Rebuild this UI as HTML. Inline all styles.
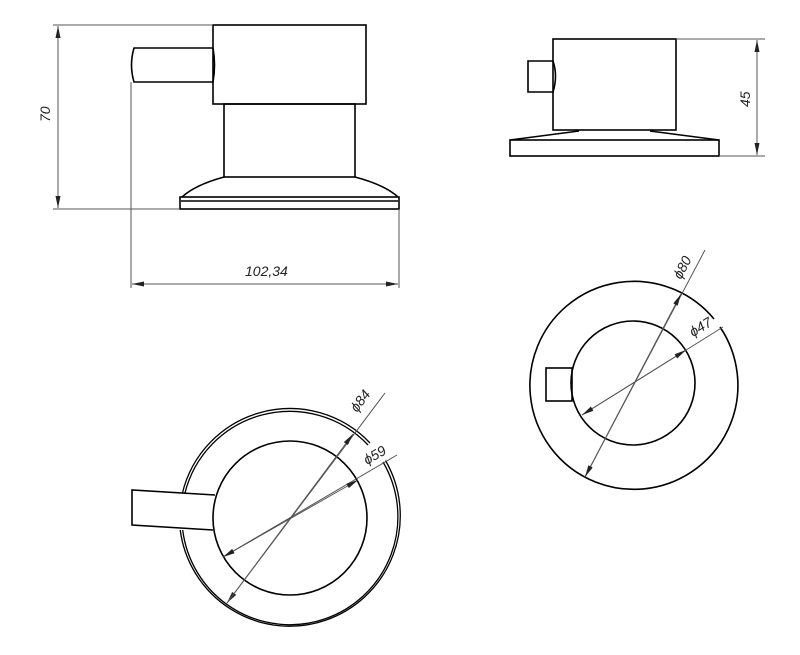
<!DOCTYPE html>
<html><head><meta charset="utf-8"><style>html,body{margin:0;padding:0;background:#fff}svg{display:block}</style></head><body>
<svg width="800" height="655" viewBox="0 0 800 655" xmlns="http://www.w3.org/2000/svg">
<defs>
<marker id="a" viewBox="0 0 12 6" refX="12" refY="3" markerWidth="12" markerHeight="6" markerUnits="userSpaceOnUse" orient="auto-start-reverse"><path d="M0,0.5 L12,3 L0,5.5 Z" fill="#222"/></marker>
</defs>
<g fill="none" stroke="#000" stroke-width="1.6">
<!-- top-left side view -->
<rect x="213" y="25" width="153" height="79"/>
<path d="M213,48 H134 Q129,65 134,82 H213"/>
<path d="M213,48 Q216,65 213,82"/>
<rect x="224" y="104" width="131" height="73"/>
<path d="M224,177 Q195,185 182,197 M355,177 Q385,185 398,197"/>
<rect x="180" y="197" width="219" height="12"/>
<line x1="181" y1="201" x2="398" y2="201"/>
<!-- top-right view -->
<rect x="553" y="39" width="123" height="91"/>
<path d="M553,61 H528 V92 H553 Q558,76 553,61"/>
<path d="M579,131 L510,140 M650,131 L719,140"/>
<rect x="510" y="140" width="209" height="16"/>
<!-- bottom-left -->
<g stroke-width="1.3">
<path d="M383,462 A108,108 0 1 1 182.7,530"/>
<path d="M184.7,494 A108,108 0 0 1 368,445"/>
<path d="M385.5,460.5 A110.5,110.5 0 1 1 180.2,530"/>
<path d="M182.3,493.5 A110.5,110.5 0 0 1 370,443"/>
</g>
<circle cx="290" cy="518" r="77"/>
<path d="M215,495 L132,490 V525 L213,530"/>
<!-- bottom-right -->
<path d="M714,319 A104,104 0 1 0 720,327"/>
<circle cx="633" cy="383" r="62"/>
<rect x="546" y="368" width="26" height="33"/>
</g>
<g fill="none" stroke="#555" stroke-width="1">
<line x1="53" y1="25" x2="213" y2="25"/>
<line x1="53" y1="209" x2="180" y2="209"/>
<line x1="58" y1="26" x2="58" y2="208" marker-start="url(#a)" marker-end="url(#a)"/>
<line x1="131" y1="82" x2="131" y2="288"/>
<line x1="399" y1="209" x2="399" y2="288"/>
<line x1="132" y1="284" x2="398" y2="284" marker-start="url(#a)" marker-end="url(#a)"/>
<line x1="676" y1="39" x2="765" y2="39"/>
<line x1="719" y1="156" x2="765" y2="156"/>
<line x1="757" y1="40" x2="757" y2="155" marker-start="url(#a)" marker-end="url(#a)"/>
<!-- bottom-left dims -->
<line x1="385" y1="393" x2="227" y2="603" marker-end="url(#a)"/>
<line x1="353" y1="434" x2="227" y2="603" marker-start="url(#a)" />
<line x1="397" y1="455" x2="223" y2="557"/>
<line x1="358" y1="480" x2="223" y2="557" marker-start="url(#a)" marker-end="url(#a)"/>
<!-- bottom-right dims -->
<line x1="705" y1="250" x2="585" y2="477"/>
<line x1="681" y1="294" x2="585" y2="477" marker-start="url(#a)" marker-end="url(#a)"/>
<line x1="723" y1="327" x2="582" y2="415"/>
<line x1="686" y1="350" x2="582" y2="415" marker-start="url(#a)" marker-end="url(#a)"/>
</g>
<g font-family="Liberation Sans, sans-serif" font-size="14" font-style="italic" fill="#222">
<text x="0" y="0" transform="translate(50,122) rotate(-90)">70</text>
<text x="245" y="276">102,34</text>
<text x="0" y="0" transform="translate(750,107) rotate(-90)">45</text>
<text x="0" y="0" transform="translate(357,413) rotate(-53)">ϕ84</text>
<text x="0" y="0" transform="translate(367,465) rotate(-30)">ϕ59</text>
<text x="0" y="0" transform="translate(681,280) rotate(-62)">ϕ80</text>
<text x="0" y="0" transform="translate(693,337) rotate(-31)">ϕ47</text>
</g>
</svg>
</body></html>
